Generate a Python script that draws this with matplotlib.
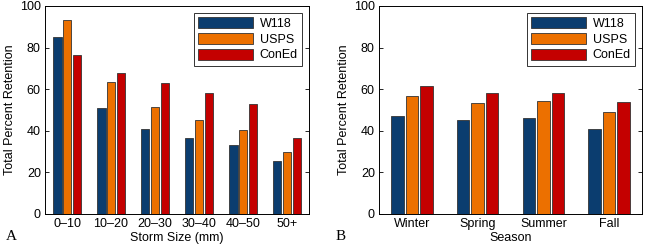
import numpy as np
import matplotlib.pyplot as plt

plt.rcParams['font.family'] = ['Liberation Sans', 'DejaVu Sans']

series = ['W118', 'USPS', 'ConEd']
colors = ['#0b3d6f', '#ec7000', '#c40000']

storm_sizes = ['0\u201310', '10\u201320', '20\u201330', '30\u201340', '40\u201350', '50+']
storm_w118 = [85, 51, 41, 36.5, 33, 25.5]
storm_usps = [93.5, 63.5, 51.5, 45, 40.5, 30]
storm_coned = [76.5, 68, 63, 58, 53, 36.5]

seasons = ['Winter', 'Spring', 'Summer', 'Fall']
season_w118 = [47, 45, 46, 41]
season_usps = [56.5, 53.5, 54.5, 49]
season_coned = [61.5, 58, 58, 54]

fig = plt.figure(figsize=(6.45, 2.48), dpi=100)
ax_a = fig.add_axes([45 / 645, 1 - 214 / 248, 264 / 645, 208 / 248])
ax_b = fig.add_axes([379 / 645, 1 - 214 / 248, 263 / 645, 208 / 248])


def grouped(ax, cats, vals, xlabel):
    x = np.arange(1, len(cats) + 1)
    step, width = 0.22, 0.19
    for i, (v, c, name) in enumerate(zip(vals, colors, series)):
        ax.bar(x + (i - 1) * step, v, width, color=c, edgecolor='#333333',
               linewidth=0.6, label=name)
    ax.set_xlim(0.5, len(cats) + 0.5)
    ax.set_ylim(0, 100)
    ax.set_yticks([0, 20, 40, 60, 80, 100])
    ax.set_xticks(x)
    ax.set_xticklabels(cats)
    ax.set_xlabel(xlabel, fontsize=9, labelpad=1)
    ax.set_ylabel('Total Percent Retention', fontsize=9, labelpad=3)
    ax.tick_params(direction='in', length=3, width=0.6, labelsize=9,
                   top=True, right=True, pad=3)
    ax.tick_params(axis='x', top=False, bottom=False)
    for s in ax.spines.values():
        s.set_linewidth(0.7)
    leg = ax.legend(loc='upper right', fontsize=9, frameon=True, fancybox=False,
                    edgecolor='black', handlelength=4.4, handleheight=1.0,
                    borderaxespad=0.55, labelspacing=0.22, handletextpad=0.5,
                    borderpad=0.35)
    leg.get_frame().set_linewidth(0.7)


grouped(ax_a, storm_sizes, [storm_w118, storm_usps, storm_coned], 'Storm Size (mm)')
grouped(ax_b, seasons, [season_w118, season_usps, season_coned], 'Season')

fig.text(6 / 645, 1 - 237 / 248, 'A', family=['Liberation Serif', 'DejaVu Serif'],
         fontsize=11, va='center')
fig.text(336 / 645, 1 - 237 / 248, 'B', family=['Liberation Serif', 'DejaVu Serif'],
         fontsize=11, va='center')

fig.savefig('out.png', dpi=100)
